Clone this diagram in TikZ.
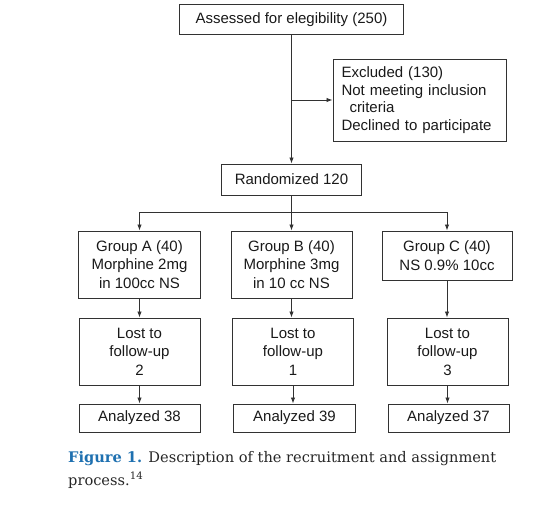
\documentclass[tikz,border=0pt]{standalone}
\usepackage{fontspec}
\setmainfont{Liberation Sans}
\newfontfamily\capfont{DejaVu Serif}
\usetikzlibrary{arrows.meta}
\definecolor{capblue}{RGB}{30,112,176}
\definecolor{linegray}{RGB}{50,50,50}
\begin{document}
\begin{tikzpicture}[x=1pt,y=-1pt,
  box/.style={draw=linegray, line width=1pt, inner sep=0pt, align=center,
    font=\fontsize{15}{18.5}\selectfont, text=black!90},
  arr/.style={draw=linegray, line width=0.9pt, -{Latex[length=6pt,width=4.5pt]}},
  ln/.style={draw=linegray, line width=0.9pt}]
\useasboundingbox (0,0) rectangle (550,528);
\node[box, minimum width=224pt, minimum height=30pt] (top) at (291.5,19.5) {Assessed for elegibility (250)};
\node[box, minimum width=173pt, minimum height=82pt, text width=156pt, align=left,
  font=\fontsize{15}{17.5}\selectfont] (excl) at (419.5,100)
  {Excluded (130)\\Not meeting inclusion\\\hspace*{8pt}criteria\\Declined to participate};
\node[box, minimum width=140pt, minimum height=31pt] (rand) at (291.5,179.5) {Randomized 120};
\node[box, minimum width=122pt, minimum height=67pt] (gA) at (139.5,264.5) {Group A (40)\\Morphine 2mg\\in 100cc NS};
\node[box, minimum width=121pt, minimum height=67pt] (gB) at (291.5,264.5) {Group B (40)\\Morphine 3mg\\in 10 cc NS};
\node[box, minimum width=130pt, minimum height=49pt] (gC) at (447,255.5) {Group C (40)\\NS 0.9\% 10cc};
\node[box, minimum width=121pt, minimum height=67pt] (lA) at (139.5,351.5) {Lost to\\follow-up\\2};
\node[box, minimum width=121pt, minimum height=67pt] (lB) at (293,351.5) {Lost to\\follow-up\\1};
\node[box, minimum width=121pt, minimum height=67pt] (lC) at (447.5,351.5) {Lost to\\follow-up\\3};
\node[box, minimum width=121pt, minimum height=28pt] (aA) at (139.5,418) {Analyzed 38};
\node[box, minimum width=122pt, minimum height=28pt] (aB) at (294.5,418) {Analyzed 39};
\node[box, minimum width=121pt, minimum height=28pt] (aC) at (448.5,418) {Analyzed 37};
% connectors
\coordinate (j) at (top.south |- excl.west);
\coordinate (br) at (291.5,212);
\draw[arr] (top.south) -- (rand.north);
\draw[arr] (j) -- (excl.west);
\draw[ln] (rand.south) -- (br);
\draw[arr] (br) -| (gA.north);
\draw[arr] (br) -- (gB.north);
\draw[arr] (br) -| (gC.north);
\draw[arr] (gA.south) -- (gA.south |- lA.north);
\draw[arr] (gB.south) -- (gB.south |- lB.north);
\draw[arr] (gC.south) -- (gC.south |- lC.north);
\draw[arr] (lA.south) -- (lA.south |- aA.north);
\draw[arr] (lB.south) -- (lB.south |- aB.north);
\draw[arr] (lC.south) -- (lC.south |- aC.north);
% caption
\node[anchor=base west, inner sep=0pt, align=left, font=\capfont\fontsize{14.6}{23}\selectfont, text=black!85] (cap) at (68,485)
  {{\color{capblue}\bfseries Figure 1.} Description of the recruitment and assignment\\process.\textsuperscript{14}};
\end{tikzpicture}
\end{document}
